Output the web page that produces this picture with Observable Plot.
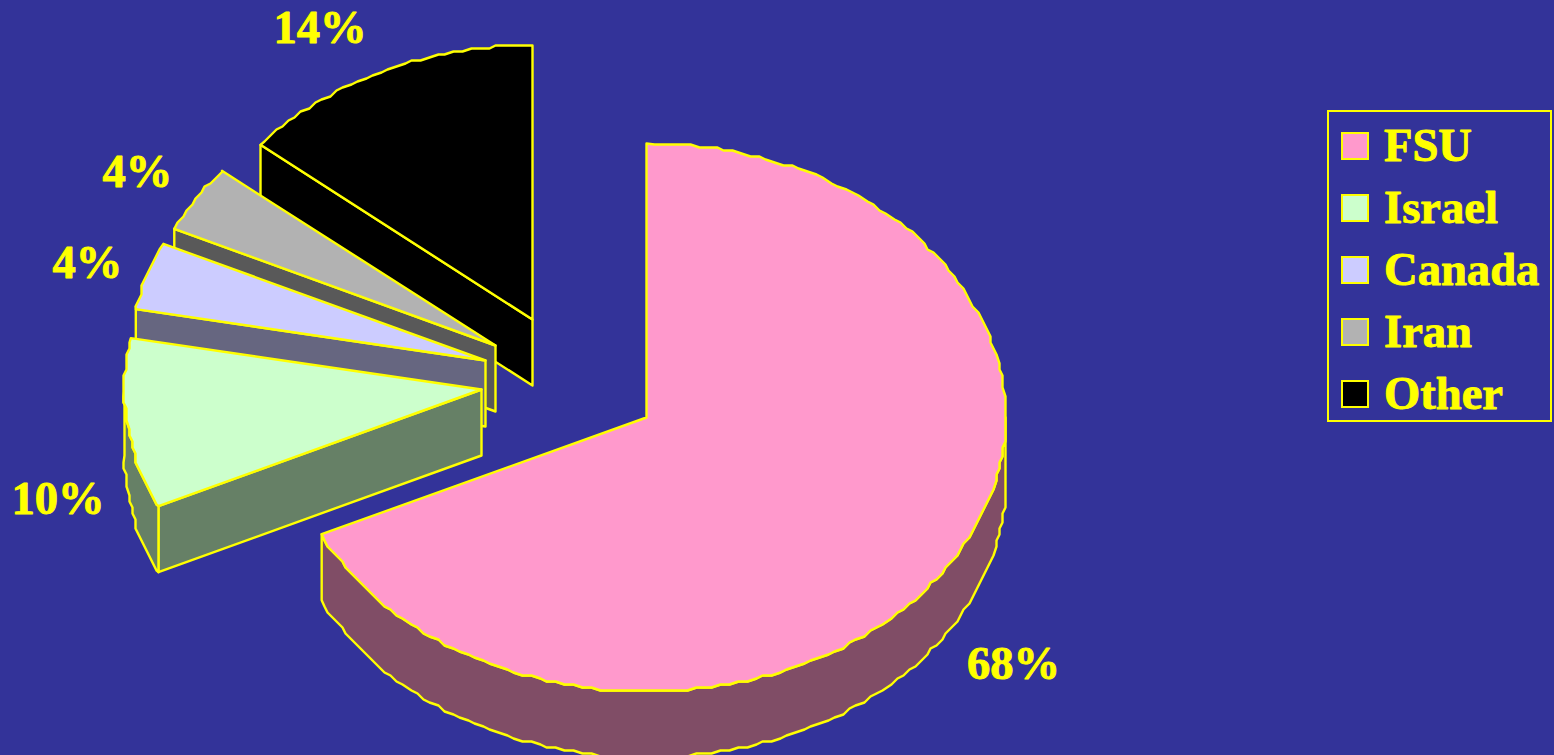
<!DOCTYPE html>
<html>
<head>
<meta charset="utf-8">
<script src="https://cdn.jsdelivr.net/npm/d3@7"></script>
<script src="https://cdn.jsdelivr.net/npm/@observablehq/plot@0.6"></script>
<style>
html,body{margin:0;padding:0;background:#333399;overflow:hidden}
svg{display:block}
</style>
</head>
<body>
<div id="chart"></div>
<script>
// Data
const categories = ["FSU", "Israel", "Canada", "Iran", "Other"];
const shares = [68, 10, 4, 4, 14];
const labels = ["68%", "10%", "4%", "4%", "14%"];
const topColors = ["#FF99CC", "#CCFFCC", "#CCCCFF", "#B2B2B2", "#000000"];
const sideColors = ["#804D66", "#668066", "#666680", "#595959", "#000000"];

// Layout of the exploded 3D pie
const apexX = [646, 481, 485, 495, 532];
const apexY = [417, 389, 360, 345, 319];
const radiusX = [359, 357, 356, 355, 353];
const labelX = [1013, 57.5, 87, 137, 319.5];
const labelY = [664, 499, 263, 172, 28];
const ry = 274, depth = 66;
const WIDTH = 1554, HEIGHT = 755;
const INK = "#FFFF00", BG = "#333399";
const FONT = "'Liberation Serif','Times New Roman',serif";
const FS = 46.6;

const arcs = d3.pie().sort(null).value(d => d)(shares);
const grid = 3;
const step = 1.4 * Math.PI / 180;
const snap = v => Math.round(v / grid) * grid;
function rimPoint(i, a, dy = 0) {
  return [apexX[i] + radiusX[i] * Math.sin(a), apexY[i] - ry * Math.cos(a) + dy];
}
// rim samples sit on a shared angle lattice, so a top face and its wall coincide
function rim(i, a0, a1, dy = 0) {
  const pts = [rimPoint(i, a0, dy)];
  for (let k = Math.ceil(a0 / step + 0.01); k * step < a1 - 0.001; k++) {
    const p = rimPoint(i, k * step, 0);
    pts.push([snap(p[0]), snap(p[1]) + dy]);
  }
  pts.push(rimPoint(i, a1, dy));
  return pts;
}
const poly = (pts, fill) => Plot.line(pts, {
  x: d => d[0], y: d => d[1], curve: "linear-closed",
  fill, stroke: INK, strokeWidth: 2.4, strokeLinejoin: "round"
});

const marks = [];
// far slices first, FSU (nearest) last
[4, 3, 2, 1, 0].forEach(i => {
  const {startAngle: a0, endAngle: a1} = arcs[i];
  const ax = apexX[i], ay = apexY[i];
  const s = rimPoint(i, a0);
  // wall along the slice's first radius
  if (i !== 0) {
    marks.push(poly([[ax, ay], s, [s[0], s[1] + depth], [ax, ay + depth]], sideColors[i]));
  }
  // outer rim wall, front half of the ellipse only
  const f0 = Math.max(a0, Math.PI / 2), f1 = Math.min(a1, 1.5 * Math.PI);
  if (f1 > f0) {
    const top = rim(i, f0, f1);
    const bot = rim(i, f0, f1, depth).reverse();
    marks.push(poly(top.concat(bot), sideColors[i]));
  }
  // top face
  marks.push(poly([[ax, ay], ...rim(i, a0, a1)], topColors[i]));
});

// percentage labels
marks.push(Plot.text(labels, {
  x: (d, i) => labelX[i], y: (d, i) => labelY[i], text: d => d,
  fill: INK, stroke: INK, strokeWidth: 0.9, fontSize: FS, fontWeight: "bold", fontFamily: FONT
}));

// legend
const legendLeft = 1328, legendRight = 1551, legendTop = 111, legendBottom = 421;
const rowY = categories.map((c, i) => 146 + i * 62);
marks.push(Plot.rect([0], {
  x1: legendLeft, x2: legendRight, y1: legendTop, y2: legendBottom,
  fill: "none", stroke: INK, strokeWidth: 2
}));
marks.push(Plot.rect(categories, {
  x1: () => 1342, x2: () => 1368,
  y1: (d, i) => rowY[i] - 13, y2: (d, i) => rowY[i] + 13,
  fill: (d, i) => topColors[i], stroke: INK, strokeWidth: 2
}));
marks.push(Plot.text(categories, {
  x: () => 1383.5, y: (d, i) => rowY[i], text: d => d, textAnchor: "start",
  fill: INK, stroke: INK, strokeWidth: 0.9, fontSize: FS, fontWeight: "bold", fontFamily: FONT
}));

const chart = Plot.plot({
  width: WIDTH, height: HEIGHT,
  margin: 0,
  x: {domain: [0, WIDTH], range: [0, WIDTH], axis: null},
  y: {domain: [0, HEIGHT], range: [0, HEIGHT], axis: null},
  style: {background: BG},
  marks
});
document.getElementById("chart").appendChild(chart);
</script>
</body>
</html>
